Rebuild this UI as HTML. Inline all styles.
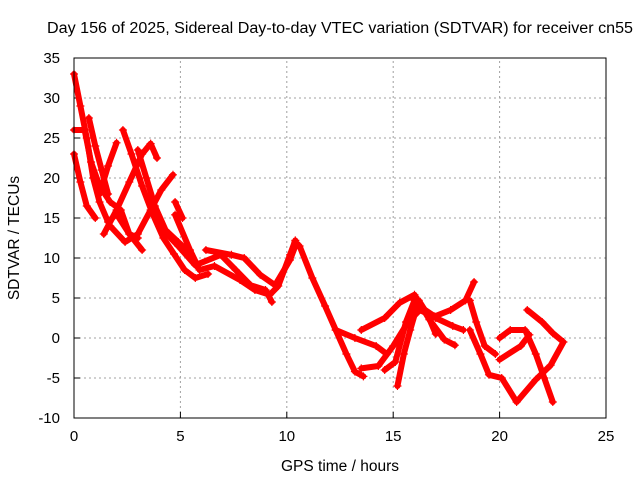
<!DOCTYPE html>
<html><head><meta charset="utf-8"><style>
body{margin:0;background:#fff}
svg{display:block;font-family:"Liberation Sans",sans-serif}
</style></head><body>
<svg id="chart" width="640" height="480">
<rect width="640" height="480" fill="#fff"/>
<text x="340" y="33" font-size="15.5" text-anchor="middle" textLength="586" lengthAdjust="spacingAndGlyphs">Day 156 of 2025, Sidereal Day-to-day VTEC variation (SDTVAR) for receiver cn55</text>
<text x="340" y="471" font-size="15.5" text-anchor="middle">GPS time / hours</text>
<text transform="translate(19,238) rotate(-90)" font-size="15.5" text-anchor="middle">SDTVAR / TECUs</text>
<g id="grid"></g><g id="ticks"></g><g id="marks"></g>
<rect x="74" y="58" width="532" height="360" fill="none" stroke="#000" stroke-width="1"/>
</svg>
<script>
const xTicks=[0,5,10,15,20,25];
const yTicks=[-10,-5,0,5,10,15,20,25,30,35];
const t1=[[0,33],[0.3,29],[0.6,25],[0.9,20],[1.2,17],[1.6,14.5],[2.0,15.5],[2.6,13],[3.2,11]];
const t2=[[0,23],[0.3,19.5],[0.6,16.5],[1.0,15]];
const t3=[[0,26],[0.5,26],[0.8,22],[1.2,19],[1.7,17],[2.2,16],[2.6,13],[3.0,12.5]];
const t4=[[0.7,27.5],[1.0,24],[1.3,21],[1.6,18]];
const t5=[[1.2,18],[1.6,21.5],[2.0,24.4]];
const t6=[[1.4,13],[2.0,16],[2.6,19.5],[3.2,23],[3.6,24.3],[3.9,22.5]];
const t7=[[2.3,26],[2.7,23],[3.2,19],[3.7,15.5],[4.2,12.5],[4.7,10.5],[5.2,8.5],[5.7,7.5],[6.3,8]];
const t8=[[1.7,14],[2.4,12],[3.0,13],[3.6,16],[4.1,18.5],[4.65,20.4]];
const t9=[[3.0,23.5],[3.4,20],[3.8,16.5],[4.3,13.5],[4.9,12],[5.5,10.5]];
const t10=[[4.75,17],[5.1,15]];
const t11=[[4.75,15.4],[5.45,11],[5.9,8.5],[6.6,9],[7.8,7.25],[8.5,6],[9.2,5.4],[9.6,6.5],[10.15,10.4],[10.4,12.2]];
const t12=[[4.0,14],[4.9,11.5],[5.7,9.1],[6.9,10.4],[7.6,8.5],[8.3,6.6],[9.0,6],[9.3,4.5]];
const t13=[[6.2,11],[7.4,10.4],[8.0,10],[8.75,7.9],[9.45,6.6],[10.15,9.75],[10.4,11.5]];
const t14=[[10.4,12],[10.6,11.5],[11.2,7.5],[11.8,4],[12.3,1],[12.8,-2],[13.2,-4.2],[13.6,-4.8]];
const t15=[[12.3,1],[13.2,0],[14.2,-1],[14.7,-2]];
const t16=[[15.2,-6],[15.5,-2],[15.8,1],[16.2,4.7],[16.6,3],[17.0,0.5]];
const t17=[[13.5,1],[14.6,2.5],[15.3,4.4],[16.0,5.4],[16.7,2.3],[17.4,-0.2],[17.9,-0.9]];
const t18=[[14.6,-4],[15.1,-3],[15.6,2],[16.0,4.7],[16.5,3.5],[16.95,2.7],[17.7,3.5],[18.4,4.7],[18.8,7]];
const t19=[[13.5,-3.8],[14.3,-3.5],[15.0,-1],[15.7,2],[16.25,3.5],[17.0,2.5],[17.8,1.5],[18.3,1]];
const t20=[[18.6,4.7],[18.9,2],[19.3,-1],[19.8,-2]];
const t21=[[18.6,1],[19.1,-2],[19.5,-4.6],[20.1,-5],[20.8,-8],[21.7,-5.2],[22.4,-3.4],[23.0,-0.5],[22.5,0.6],[22.0,2],[21.3,3.5]];
const t22=[[20.0,0],[20.5,1],[21.2,1],[21.7,-2],[22.1,-5],[22.5,-8]];
const t23=[[20.0,-2.7],[21.0,-1],[21.4,0.4]];
const tracks=[t1,t2,t3,t4,t5,t6,t7,t8,t9,t10,t11,t12,t13,t14,t15,t16,t17,t18,t19,t20,t21,t22,t23];

const NS="http://www.w3.org/2000/svg";
const X0=74,X1=606,Y0=418,Y1=58,XMIN=0,XMAX=25,YMIN=-10,YMAX=35;
function xs(v){return X0+(v-XMIN)/(XMAX-XMIN)*(X1-X0);}
function ys(v){return Y0-(v-YMIN)/(YMAX-YMIN)*(Y0-Y1);}
function mk(tag,attrs,parent){const e=document.createElementNS(NS,tag);for(const k in attrs)e.setAttribute(k,attrs[k]);parent.appendChild(e);return e;}
const grid=document.getElementById('grid'),ticks=document.getElementById('ticks'),marks=document.getElementById('marks');
xTicks.forEach(v=>{const x=xs(v);
 if(v>XMIN&&v<XMAX){const g=mk('line',{x1:x,x2:x,y1:Y0,y2:Y1,stroke:'#a0a0a0','stroke-dasharray':'2,3'},grid);
 
 }
 const tk=mk('line',{x1:x,x2:x,y1:Y0,y2:Y0-6,stroke:'#000'},ticks);
 
 
 const t=mk('text',{x:x,y:Y0+23,'font-size':15,'text-anchor':'middle'},ticks);t.textContent=v;
 
 
});
yTicks.forEach(v=>{const y=ys(v);
 if(v>YMIN&&v<YMAX){const g=mk('line',{x1:X0,x2:X1,y1:y,y2:y,stroke:'#a0a0a0','stroke-dasharray':'2,3'},grid);
 
 }
 const tk=mk('line',{x1:X0,x2:X0+6,y1:y,y2:y,stroke:'#000'},ticks);
 
 
 const t=mk('text',{x:X0-14,y:y+5,'font-size':15,'text-anchor':'end'},ticks);t.textContent=v;
 
 
});
tracks.forEach((tr,i)=>{
 const p=mk('polyline',{points:tr.map(d=>xs(d[0])+','+ys(d[1])).join(' '),fill:'none',stroke:'#ff0000','stroke-width':6,'stroke-linejoin':'round','stroke-linecap':'round'},marks);
 
 
 tr.forEach(d=>{const x=xs(d[0]),y=ys(d[1]);
  const m=mk('path',{d:`M${x-4} ${y}H${x+4}M${x} ${y-4}V${y+4}`,stroke:'#ff0000','stroke-width':1.2},marks);
  
  
 });
});
</script>
</body></html>
